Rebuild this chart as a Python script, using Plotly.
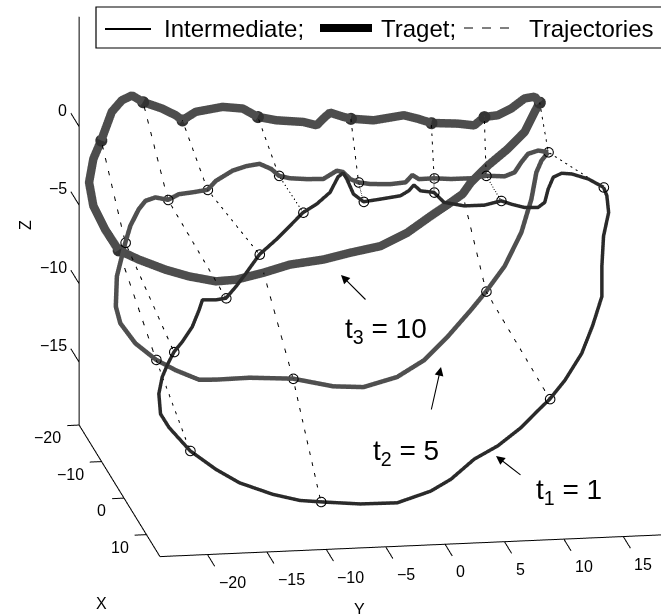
import plotly.graph_objects as go

# ---------------- data -----------------
X_LIM = [-20, 16]
Y_LIM = [-24, 20]
Z_LIM = [-19, 7]
X_TICKS = [-20, -10, 0, 10]
Y_TICKS = [-20, -15, -10, -5, 0, 5, 10, 15]
Z_TICKS = [-15, -10, -5, 0]

# depth (x) of each contour
T1_X = 8.0
T2_X = -8.0
T3_X = -18.0

# contour at t1 = 1 (intermediate)
t1_y = [14.85, 13.58, 12.17, 11.32, 10.62, 10.19, 9.90, 9.34, 8.21, 7.08,
        6.23, 4.82, 3.12, 1.43, 0.58, -0.55, -1.11, -1.54, -2.24, -3.94,
        -5.35, -6.20, -6.76, -7.07, -7.50, -8.17, -9.30, -10.44, -11.56, -12.69,
        -14.11, -15.23, -16.08, -16.93, -17.78, -18.91, -19.19, -19.76, -20.61, -21.31,
        -21.88, -22.30, -22.58, -22.44, -21.73, -19.95, -17.78, -15.80, -12.98, -10.72,
        -8.94, -5.63, -2.52, 0.30, 2.00, 3.97, 5.95, 7.93, 9.34, 10.33,
        11.60, 13.01, 13.95, 14.71, 14.71, 14.85, 15.28, 15.13]
t1_z = [1.38, 1.95, 2.32, 2.39, 2.16, 1.42, 0.58, 0.28, 0.31, 0.56,
        0.80, 0.57, 0.58, 0.86, 1.52, 1.66, 2.05, 1.70, 1.40, 1.24,
        1.12, 1.64, 2.62, 3.01, 2.77, 1.81, 1.10, 0.60, -0.22, -1.04,
        -1.95, -3.09, -3.92, -4.64, -4.72, -4.68, -5.31, -6.36, -7.30, -7.92,
        -8.75, -9.49, -10.54, -11.83, -12.71, -14.26, -15.51, -16.43, -17.26, -17.72,
        -17.87, -18.11, -18.14, -17.49, -16.79, -15.57, -14.79, -13.68, -12.65, -11.95,
        -10.80, -9.14, -7.36, -5.57, -3.64, -1.73, -0.24, 0.83]

# contour at t2 = 5 (intermediate)
t2_y = [13.22, 12.37, 11.52, 10.95, 10.39, 9.54, 7.99, 6.72, 5.02, 3.61,
        2.33, 1.78, 1.21, -0.06, -1.76, -2.75, -3.45, -4.05, -4.58, -5.72,
        -7.12, -8.54, -9.45, -10.09, -11.08, -12.21, -13.35, -14.75, -15.46, -16.74,
        -17.86, -18.79, -19.84, -20.68, -21.25, -21.96, -22.38, -23.09, -23.18, -22.80,
        -21.53, -19.79, -18.14, -16.17, -14.75, -11.93, -8.26, -4.87, -2.33, 0.50,
        2.76, 4.74, 6.72, 7.99, 9.54, 10.95, 11.80, 12.22, 12.65]
t2_z = [-0.05, 0.08, -0.10, -0.62, -1.24, -1.47, -1.38, -1.50, -1.49, -1.40,
        -1.41, -1.13, -1.58, -1.65, -1.59, -1.45, -1.22, -0.75, -0.65, -1.14,
        -1.10, -1.00, -0.81, -0.36, 0.00, -0.11, -0.36, -0.96, -1.51, -1.63,
        -1.71, -2.04, -1.85, -2.04, -2.56, -3.60, -4.65, -6.77, -8.69, -9.77,
        -11.09, -12.19, -12.91, -13.58, -13.62, -13.59, -13.77, -14.37, -14.50, -13.95,
        -12.96, -11.53, -9.88, -8.75, -7.20, -5.10, -3.00, -1.30, -0.57]

# contour at t3 = 10 (target)
t3_y = [14.39, 13.97, 13.12, 11.99, 10.87, 9.73, 8.88, 7.48, 5.27, 4.09,
        2.95, 0.41, -1.51, -2.13, -3.26, -3.83, -4.39, -5.52, -7.78, -9.34,
        -10.61, -12.30, -14.56, -15.69, -16.25, -17.39, -19.00, -19.93, -20.78, -21.63,
        -22.52, -23.18, -23.54, -23.18, -22.19, -21.06, -19.36, -17.10, -15.13, -12.86,
        -11.17, -8.85, -6.65, -3.83, -1.57, 0.98, 3.24, 5.22, 6.91, 7.90,
        8.60, 10.02, 11.72, 13.12, 13.97]
t3_z = [0.75, 1.13, 1.05, 0.44, 0.05, -0.02, -0.53, -0.37, -0.26, 0.06,
        0.31, 0.07, 0.24, 0.37, 0.68, 0.32, -0.09, 0.16, 0.34, 0.61,
        1.18, 1.34, 1.10, 0.60, 0.94, 1.40, 1.87, 2.32, 2.04, 1.33,
        -0.46, -1.61, -3.10, -4.61, -6.14, -7.50, -8.15, -8.87, -9.36, -9.75,
        -9.70, -9.33, -8.89, -8.66, -8.30, -7.96, -7.18, -6.18, -5.37, -4.87,
        -4.15, -3.13, -2.11, -1.09, 0.17]

# indices of the tracked (circled) points on each contour
t1_marks = [0, 10, 14, 20, 27, 30, 33, 39, 45, 50, 59]
t2_marks = [0, 6, 9, 15, 22, 28, 31, 36, 41, 46, 53]
t3_marks = [0, 5, 8, 12, 19, 23, 26, 30, 35, 41, 49]
t3_shown_marks = 9  # the last two lie under the thick line

FONT = "Liberation Sans, Arial, Helvetica, sans-serif"
W, H = 661, 614


def closed(a):
    return list(a) + [a[0]]


def px(x):
    return x / W


def py(y):
    return 1 - y / H


fig = go.Figure()

# ---------- axis lines and ticks (MATLAB-like 3 axes) ----------
ax_x, ax_y, ax_z = [], [], []


def seg(p, q):
    ax_x.extend([p[0], q[0], None])
    ax_y.extend([p[1], q[1], None])
    ax_z.extend([p[2], q[2], None])


x0, x1 = X_LIM
y0, y1 = Y_LIM
z0, z1 = Z_LIM
seg((x0, y0, z0), (x0, y0, z1))
seg((x0, y0, z0), (x1, y0, z0))
seg((x1, y0, z0), (x1, y1, z0))
for v in Z_TICKS:
    seg((x0, y0, v), (x0 - 3.7, y0, v))
for v in X_TICKS:
    seg((v, y0, z0), (v, y0 - 1.0, z0))
for v in Y_TICKS:
    seg((x1, v, z0), (x1 + 3.2, v, z0))

fig.add_trace(go.Scatter3d(x=ax_x, y=ax_y, z=ax_z, mode="lines",
                           line=dict(color="black", width=2),
                           showlegend=False, hoverinfo="skip"))

# ---------- trajectories ----------
tr_x, tr_y, tr_z = [], [], []
for a, b, c in zip(t1_marks, t2_marks, t3_marks):
    tr_x += [T1_X, T2_X, T3_X, None]
    tr_y += [t1_y[a], t2_y[b], t3_y[c], None]
    tr_z += [t1_z[a], t2_z[b], t3_z[c], None]
fig.add_trace(go.Scatter3d(x=tr_x, y=tr_y, z=tr_z, mode="lines",
                           line=dict(color="black", width=2, dash="dot"),
                           showlegend=False, hoverinfo="skip"))

# ---------- contours ----------
fig.add_trace(go.Scatter3d(x=[T1_X] * (len(t1_y) + 1), y=closed(t1_y), z=closed(t1_z),
                           mode="lines", line=dict(color="#2a2a2a", width=7),
                           showlegend=False, hoverinfo="skip"))
fig.add_trace(go.Scatter3d(x=[T2_X] * (len(t2_y) + 1), y=closed(t2_y), z=closed(t2_z),
                           mode="lines", line=dict(color="#4f4f4f", width=9),
                           showlegend=False, hoverinfo="skip"))
fig.add_trace(go.Scatter3d(x=[T3_X] * (len(t3_y) + 1), y=closed(t3_y), z=closed(t3_z),
                           mode="lines", line=dict(color="#4d4d4d", width=17),
                           showlegend=False, hoverinfo="skip"))

# ---------- circle markers ----------
fig.add_trace(go.Scatter3d(x=[T1_X] * len(t1_marks), y=[t1_y[i] for i in t1_marks],
                           z=[t1_z[i] for i in t1_marks], mode="markers",
                           marker=dict(symbol="circle-open", size=6, color="black"),
                           showlegend=False, hoverinfo="skip"))
fig.add_trace(go.Scatter3d(x=[T2_X] * len(t2_marks), y=[t2_y[i] for i in t2_marks],
                           z=[t2_z[i] for i in t2_marks], mode="markers",
                           marker=dict(symbol="circle-open", size=6, color="black"),
                           showlegend=False, hoverinfo="skip"))
sm = t3_marks[:t3_shown_marks]
fig.add_trace(go.Scatter3d(x=[T3_X] * len(sm), y=[t3_y[i] for i in sm],
                           z=[t3_z[i] for i in sm], mode="markers",
                           marker=dict(symbol="circle", size=7, color="#333333"),
                           showlegend=False, hoverinfo="skip"))

# ---------- tick labels (scene annotations) ----------
tick_font = dict(family=FONT, size=16, color="black")
scene_ann = []
for v in Z_TICKS:
    scene_ann.append(dict(x=x0 - 3.7, y=y0, z=v, text=str(v).replace("-", "\u2212"),
                          showarrow=False, xanchor="right", yanchor="middle",
                          xshift=-2, yshift=3, font=tick_font))
for v in X_TICKS:
    scene_ann.append(dict(x=v, y=y0 - 1.0, z=z0, text=str(v).replace("-", "\u2212"),
                          showarrow=False, xanchor="right", yanchor="middle",
                          xshift=-4, yshift=-12, font=tick_font))
for v in Y_TICKS:
    scene_ann.append(dict(x=x1 + 3.2, y=v, z=z0, text=str(v).replace("-", "\u2212"),
                          showarrow=False, xanchor="left", yanchor="middle",
                          xshift=2, yshift=-16, font=tick_font))
scene_ann.append(dict(x=x0, y=y0, z=-6, text="Z", textangle=-90, showarrow=False,
                      xanchor="center", yanchor="middle", xshift=-53, yshift=-4,
                      font=tick_font))
scene_ann.append(dict(x=x1, y=y0, z=z0, text="X", showarrow=False,
                      xanchor="center", yanchor="middle", xshift=-58, yshift=-47,
                      font=tick_font))
scene_ann.append(dict(x=x1, y=-7, z=z0, text="Y", showarrow=False,
                      xanchor="center", yanchor="middle", xshift=-2, yshift=-62,
                      font=tick_font))

# ---------- legend (drawn as a MATLAB style box) ----------
shapes = [
    dict(type="rect", xref="paper", yref="paper", x0=px(96), x1=px(700),
         y0=py(48), y1=py(7), line=dict(color="black", width=1.2), fillcolor="white"),
    dict(type="line", xref="paper", yref="paper", x0=px(105), x1=px(151),
         y0=py(29), y1=py(29), line=dict(color="black", width=2)),
    dict(type="line", xref="paper", yref="paper", x0=px(320), x1=px(372),
         y0=py(28), y1=py(28), line=dict(color="black", width=8)),
    dict(type="line", xref="paper", yref="paper", x0=px(464), x1=px(516),
         y0=py(28), y1=py(28), line=dict(color="black", width=1, dash="dash")),
]
leg_font = dict(family=FONT, size=24, color="black")
big_font = dict(family=FONT, size=28, color="black")
annotations = [
    dict(x=px(162), y=py(28), xref="paper", yref="paper", text="Intermediate;",
         showarrow=False, xanchor="left", yanchor="middle", font=leg_font),
    dict(x=px(379), y=py(28), xref="paper", yref="paper", text="Traget;",
         showarrow=False, xanchor="left", yanchor="middle", font=leg_font),
    dict(x=px(527), y=py(28), xref="paper", yref="paper", text="Trajectories",
         showarrow=False, xanchor="left", yanchor="middle", font=leg_font),
    # labels
    dict(x=px(343), y=py(330), xref="paper", yref="paper", text="t<sub>3</sub> = 10",
         showarrow=False, xanchor="left", yanchor="middle", font=big_font),
    dict(x=px(371), y=py(452), xref="paper", yref="paper", text="t<sub>2</sub> = 5",
         showarrow=False, xanchor="left", yanchor="middle", font=big_font),
    dict(x=px(534), y=py(491), xref="paper", yref="paper", text="t<sub>1</sub> = 1",
         showarrow=False, xanchor="left", yanchor="middle", font=big_font),
    # arrows
    dict(x=px(341), y=py(275), xref="paper", yref="paper", text="", showarrow=True,
         ax=26, ay=26, arrowhead=2, arrowsize=1.6, arrowwidth=1.1, arrowcolor="black"),
    dict(x=px(441), y=py(367), xref="paper", yref="paper", text="", showarrow=True,
         ax=-10, ay=44, arrowhead=2, arrowsize=1.6, arrowwidth=1.1, arrowcolor="black"),
    dict(x=px(496), y=py(456), xref="paper", yref="paper", text="", showarrow=True,
         ax=26, ay=20, arrowhead=2, arrowsize=1.6, arrowwidth=1.1, arrowcolor="black"),
]

hidden = dict(visible=False, showgrid=False, zeroline=False, showbackground=False,
              showspikes=False)
fig.update_layout(
    width=W, height=H, margin=dict(l=0, r=0, t=0, b=0),
    paper_bgcolor="white", plot_bgcolor="white", hovermode=False,
    showlegend=False,
    shapes=shapes, annotations=annotations,
    scene=dict(
        domain=dict(x=[0, 1], y=[0, 1]),
        xaxis=dict(range=[-24, 20], autorange=False, **hidden),
        yaxis=dict(range=[-26, 21], autorange=False, **hidden),
        zaxis=dict(range=[-20, 8], autorange=False, **hidden),
        aspectmode="manual",
        aspectratio=dict(x=2.0, y=1.8428, z=1.4858),
        bgcolor="white",
        camera=dict(projection=dict(type="orthographic"),
                    up=dict(x=0, y=0, z=1),
                    center=dict(x=0.0041, y=-0.1474, z=-0.0984),
                    eye=dict(x=2.3834, y=-0.5352, z=0.5649)),
        annotations=scene_ann,
    ),
)

fig.write_html("out.html")
